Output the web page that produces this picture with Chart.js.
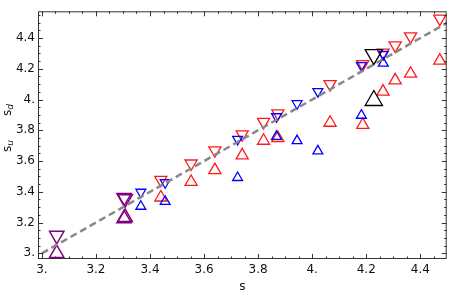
<!DOCTYPE html>
<html>
<head>
<meta charset="utf-8">
<script src="https://cdn.jsdelivr.net/npm/chart.js@4"></script>
<style>
  html, body { margin: 0; padding: 0; background: #fff; }
</style>
</head>
<body>
<canvas id="sChart" width="458" height="294"></canvas>
<script>
const xTicks = [3.0, 3.2, 3.4, 3.6, 3.8, 4.0, 4.2, 4.4];
const yTicks = [3.0, 3.2, 3.4, 3.6, 3.8, 4.0, 4.2, 4.4];

// red set
const redS  = [3.44, 3.552, 3.64, 3.741, 3.82, 3.873, 4.066, 4.187, 4.262, 4.307, 4.364, 4.472];
const redSd = [3.478, 3.584, 3.67, 3.774, 3.855, 3.91, 4.10, 4.23, 4.305, 4.352, 4.411, 4.526];
const redSu = [3.363, 3.464, 3.541, 3.637, 3.732, 3.75, 3.849, 3.835, 4.052, 4.125, 4.168, 4.253];

// blue set
const blueS  = [3.366, 3.456, 3.724, 3.868, 3.944, 4.021, 4.182, 4.263];
const blueSd = [3.398, 3.46, 3.742, 3.889, 3.974, 4.053, 4.222, 4.294];
const blueSu = [3.305, 3.337, 3.492, 3.759, 3.732, 3.665, 3.897, 4.236];

// black
const blackS  = [4.228];
const blackSd = [4.292];
const blackSu = [3.994];

// purple
const purpleS  = [3.055, 3.304, 3.308];
const purpleSd = [3.116, 3.362, 3.354];
const purpleSu = [3.0, 3.226, 3.234];

const refLine = [3.0, 4.5];

const pts = (xs, ys) => xs.map((x, i) => ({ x: x, y: ys[i] }));
const fmt = v => Number.isInteger(Math.round(v * 1000) / 1000) ? Math.round(v) + "." : v.toFixed(1);

function markers(xs, ys, color, r, down, lw) {
  return {
    type: "scatter",
    data: pts(xs, ys),
    pointStyle: "triangle",
    rotation: down ? 180 : 0,
    pointRadius: r,
    pointBorderColor: color,
    pointBackgroundColor: "rgba(0,0,0,0)",
    pointBorderWidth: lw || 1.3,
  };
}

// frame with inward ticks on all four sides + axis labels
const framePlugin = {
  id: "frame",
  afterDraw(chart) {
    const { ctx, chartArea: a, scales } = chart;
    const xs = scales.x, ys = scales.y;
    ctx.save();
    ctx.strokeStyle = "#333";
    ctx.lineWidth = 1;
    ctx.strokeRect(a.left + 0.5, a.top + 0.5, a.right - a.left - 1, a.bottom - a.top - 1);
    ctx.beginPath();
    for (let k = 0; k <= 40; k++) {
      const v = 2.9 + k * 0.05;
      const major = k % 4 === 2;
      const len = major ? 5 : 2.5;
      const px = Math.round(xs.getPixelForValue(v)) + 0.5;
      if (px > a.left + 1 && px < a.right - 1) {
        ctx.moveTo(px, a.bottom); ctx.lineTo(px, a.bottom - len);
        ctx.moveTo(px, a.top); ctx.lineTo(px, a.top + len);
      }
      const py = Math.round(ys.getPixelForValue(v)) + 0.5;
      if (py > a.top + 1 && py < a.bottom - 1) {
        ctx.moveTo(a.left, py); ctx.lineTo(a.left + len, py);
        ctx.moveTo(a.right, py); ctx.lineTo(a.right - len, py);
      }
    }
    ctx.stroke();

    ctx.fillStyle = "#111";
    ctx.textAlign = "center";
    ctx.textBaseline = "middle";
    ctx.font = "12px 'DejaVu Sans'";
    ctx.fillText("s", (a.left + a.right) / 2, 287);

    function subLabel(text, sub, cy) {
      ctx.save();
      ctx.translate(8, cy);
      ctx.rotate(-Math.PI / 2);
      ctx.textAlign = "left";
      ctx.font = "12px 'DejaVu Sans'";
      const w = ctx.measureText(text).width;
      ctx.font = "italic 9px 'DejaVu Sans'";
      const w2 = ctx.measureText(sub).width;
      const x0 = -(w + w2) / 2;
      ctx.font = "12px 'DejaVu Sans'";
      ctx.fillText(text, x0, 0);
      ctx.font = "italic 9px 'DejaVu Sans'";
      ctx.fillText(sub, x0 + w, 3);
      ctx.restore();
    }
    subLabel("s", "d", 110);
    subLabel("s", "u", 146);
    ctx.restore();
  },
};

new Chart(document.getElementById("sChart"), {
  type: "scatter",
  data: {
    datasets: [
      {
        type: "line",
        data: pts(refLine, refLine),
        borderColor: "#888",
        borderWidth: 2.5,
        borderDash: [7, 4],
        pointRadius: 0,
        fill: false,
      },
      markers(blackS, blackSd, "#000", 10, true),
      markers(blackS, blackSu, "#000", 10, false),
      markers(purpleS, purpleSd, "#800080", 8.3, true, 1.5),
      markers(purpleS, purpleSu, "#800080", 8.3, false, 1.5),
      markers(blueS, blueSd, "#0000ff", 5.7, true),
      markers(blueS, blueSu, "#0000ff", 5.7, false),
      markers(redS, redSd, "#ff1a1a", 7, true),
      markers(redS, redSu, "#ff1a1a", 7, false),
    ],
  },
  options: {
    responsive: false,
    animation: false,
    events: [],
    layout: { padding: { top: 0, right: 1, left: 0, bottom: 0 } },
    plugins: { legend: { display: false }, tooltip: { enabled: false } },
    scales: {
      x: {
        min: 2.9856,
        max: 4.4976,
        grid: { display: false, drawTicks: false },
        border: { display: false },
        afterBuildTicks: s => { s.ticks = xTicks.map(v => ({ value: v })); },
        afterFit: s => { s.height = 35; },
        ticks: {
          padding: 4,
          maxRotation: 0,
          color: "#111",
          font: { family: "DejaVu Sans", size: 12 },
          callback: v => fmt(v),
        },
      },
      y: {
        min: 2.963,
        max: 4.574,
        grid: { display: false, drawTicks: false },
        border: { display: false },
        afterBuildTicks: s => { s.ticks = yTicks.map(v => ({ value: v })); },
        afterFit: s => { s.width = 38; },
        ticks: {
          padding: 3,
          color: "#111",
          font: { family: "DejaVu Sans", size: 12 },
          callback: v => fmt(v),
        },
      },
    },
  },
  plugins: [framePlugin],
});
</script>
</body>
</html>
